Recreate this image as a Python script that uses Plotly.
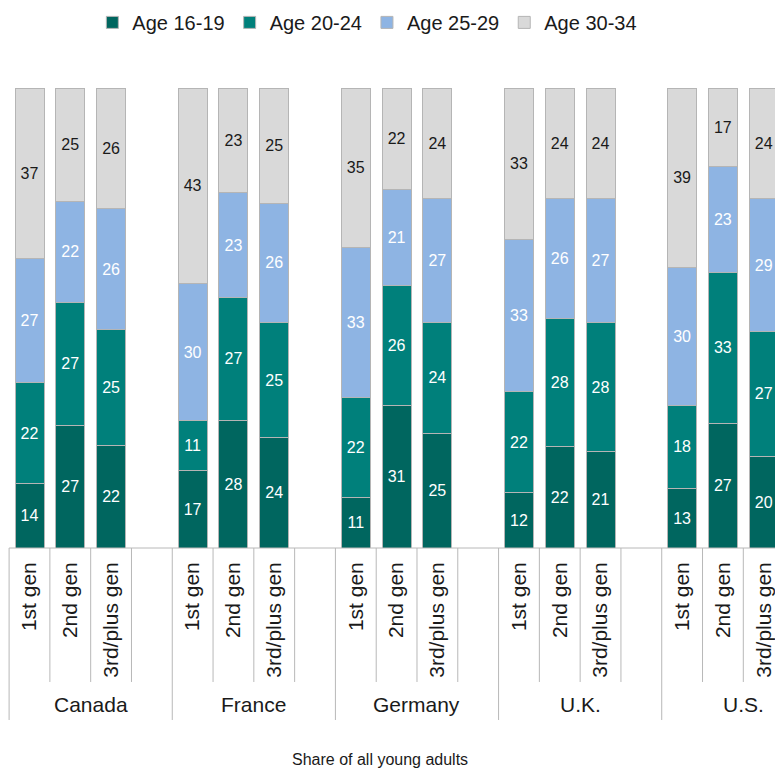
import plotly.graph_objects as go

# ---- data ----
countries = ["Canada", "France", "Germany", "U.K.", "U.S."]
generations = ["1st gen", "2nd gen", "3rd/plus gen"]
age_groups = ["Age 16-19", "Age 20-24", "Age 25-29", "Age 30-34"]

# order: for each country -> 1st gen, 2nd gen, 3rd/plus gen
age_16_19 = [14, 27, 22, 17, 28, 24, 11, 31, 25, 12, 22, 21, 13, 27, 20]
age_20_24 = [22, 27, 25, 11, 27, 25, 22, 26, 24, 22, 28, 28, 18, 33, 27]
age_25_29 = [27, 22, 26, 30, 23, 26, 33, 21, 27, 33, 26, 27, 30, 23, 29]
age_30_34 = [37, 25, 26, 43, 23, 25, 35, 22, 24, 33, 24, 24, 39, 17, 24]

x_title = "Share of all young adults"

# ---- styling ----
colors = ["#00665F", "#00807B", "#8EB4E3", "#D9D9D9"]
text_colors = ["white", "white", "white", "#1A1A1A"]
FONT = "Arial, Liberation Sans, sans-serif"
GRID = "#B8B8B8"

slots_per_country = 4
xs, tick_text = [], []
for ci, c in enumerate(countries):
    for gi, g in enumerate(generations):
        xs.append(ci * slots_per_country + gi)
        tick_text.append(g)

series = [age_16_19, age_20_24, age_25_29, age_30_34]

fig = go.Figure()
for name, vals, col, tcol in zip(age_groups, series, colors, text_colors):
    fig.add_trace(go.Bar(
        x=xs, y=vals, name=name,
        width=0.711,
        marker=dict(color=col, line=dict(color="#B5B5B5", width=1)),
        text=[str(v) for v in vals],
        texttemplate="%{text}",
        textposition="inside",
        insidetextanchor="middle",
        textangle=0,
        constraintext="none",
        textfont=dict(family=FONT, size=16, color=tcol),
        hoverinfo="skip",
    ))

shapes = []
# baseline
shapes.append(dict(type="line", xref="x", yref="paper",
                   x0=-0.5, x1=len(countries) * slots_per_country - 0.5,
                   y0=0, y1=0, line=dict(color=GRID, width=1)))
for ci in range(len(countries) + 1):
    b = ci * slots_per_country - 0.5
    shapes.append(dict(type="line", xref="x", yref="paper", x0=b, x1=b,
                       y0=0, y1=-0.3739, line=dict(color=GRID, width=1)))
    if ci < len(countries):
        for k in range(1, slots_per_country):
            bb = b + k
            shapes.append(dict(type="line", xref="x", yref="paper", x0=bb, x1=bb,
                               y0=0, y1=-0.2913, line=dict(color=GRID, width=1)))

annotations = []
for ci, c in enumerate(countries):
    annotations.append(dict(
        x=ci * slots_per_country + 1.5, xref="x", y=-0.3413, yref="paper",
        text=c, showarrow=False, xanchor="center", yanchor="middle",
        font=dict(family=FONT, size=21, color="#1A1A1A")))
annotations.append(dict(
    x=380 / 775, xref="paper", y=-0.4587, yref="paper", text=x_title,
    showarrow=False, xanchor="center", yanchor="middle",
    font=dict(family=FONT, size=16, color="#1A1A1A")))

fig.update_layout(
    width=775, height=769,
    margin=dict(l=0, r=0, t=88, b=221, pad=0),
    barmode="stack", barnorm="percent",
    paper_bgcolor="white", plot_bgcolor="white",
    font=dict(family=FONT, color="#1A1A1A"),
    showlegend=True,
    legend=dict(orientation="h", x=0.474, xanchor="center", y=1.185, yanchor="top",
                traceorder="normal", font=dict(family=FONT, size=20, color="#1A1A1A"),
                bgcolor="rgba(0,0,0,0)"),
    xaxis=dict(range=[-0.7232, 18.277], tickmode="array", tickvals=xs, ticktext=tick_text,
               tickangle=-90, ticks="", showgrid=False, zeroline=False, showline=False,
               tickfont=dict(family=FONT, size=21, color="#1A1A1A"),
               ticklabelstandoff=9, fixedrange=True),
    yaxis=dict(range=[0, 100], visible=False, fixedrange=True),
    shapes=shapes, annotations=annotations,
)

fig.write_html(
    "out.html",
    config={"displayModeBar": False},
    post_script="document.body.style.margin='0';document.body.style.overflow='hidden';",
)
